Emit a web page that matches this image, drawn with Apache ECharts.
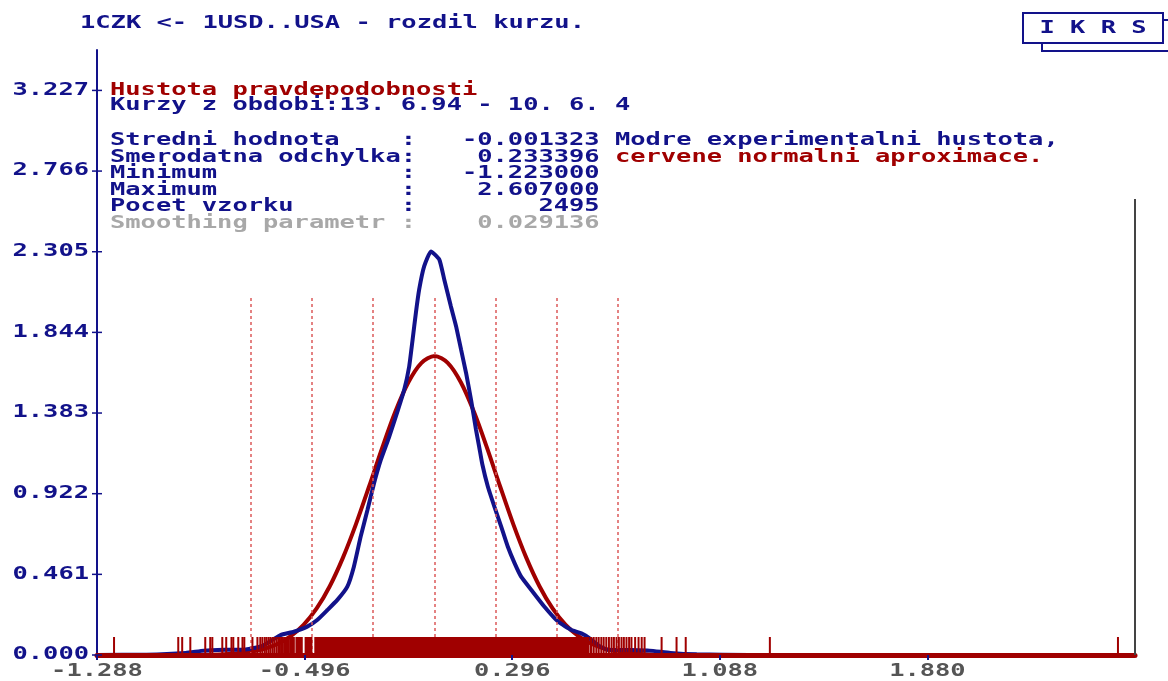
<!DOCTYPE html>
<html><head><meta charset="utf-8">
<script src="https://cdn.jsdelivr.net/npm/echarts@6/dist/echarts.min.js"></script>
<style>html,body{margin:0;padding:0;background:#fff}#c{width:1168px;height:681px}</style>
</head><body><div id="c"></div>
<script>
// ---- axis ticks ----
const xMin = -1.288, xMax = 2.672;
const yMin = 0, yMax = 3.458;
const xTicks = [-1.288, -0.496, 0.296, 1.088, 1.880];
const xTickLabels = ['-1.288', '-0.496', '0.296', '1.088', '1.880'];
const yTicks = [0, 0.461, 0.922, 1.383, 1.844, 2.305, 2.766, 3.227];
const yTickLabels = ['0.000', '0.461', '0.922', '1.383', '1.844', '2.305', '2.766', '3.227'];

// ---- experimental density (blue) ----
const blueX = [-1.288, -1.10, -0.95, -0.88, -0.80, -0.72, -0.66, -0.62, -0.588, -0.537, -0.486, -0.448, -0.409, -0.371, -0.333, -0.308, -0.282, -0.256, -0.231, -0.205, -0.175, -0.140, -0.116, -0.097, -0.084, -0.0715, -0.059, -0.040, -0.014, 0.018, 0.037, 0.062, 0.082, 0.101, 0.120, 0.139, 0.158, 0.170, 0.182, 0.203, 0.228, 0.254, 0.279, 0.305, 0.330, 0.369, 0.419, 0.471, 0.522, 0.560, 0.590, 0.630, 0.660, 0.750, 0.820, 0.900, 1.000, 1.200];
const blueY = [0.000, 0.002, 0.012, 0.025, 0.030, 0.032, 0.050, 0.085, 0.114, 0.133, 0.162, 0.200, 0.257, 0.315, 0.391, 0.505, 0.677, 0.830, 0.982, 1.116, 1.240, 1.400, 1.516, 1.649, 1.802, 1.955, 2.088, 2.221, 2.307, 2.260, 2.145, 1.993, 1.878, 1.745, 1.612, 1.459, 1.287, 1.190, 1.090, 0.963, 0.848, 0.734, 0.620, 0.525, 0.448, 0.372, 0.276, 0.191, 0.143, 0.124, 0.097, 0.050, 0.030, 0.028, 0.025, 0.012, 0.004, 0.000];

// ---- normal approximation (red) ----
const redX = [-1.288, -1.0, -0.9, -0.8, -0.75, -0.7, -0.65, -0.6, -0.55, -0.5, -0.45, -0.4, -0.35, -0.3, -0.25, -0.2, -0.15, -0.1, -0.05, 0.0, 0.05, 0.1, 0.15, 0.2, 0.25, 0.3, 0.35, 0.4, 0.45, 0.5, 0.55, 0.6, 0.65, 0.7, 0.75, 0.8, 0.9, 1.0, 2.672];
const redY = [0.000, 0.000, 0.001, 0.005, 0.010, 0.019, 0.035, 0.063, 0.106, 0.172, 0.266, 0.393, 0.555, 0.748, 0.963, 1.184, 1.390, 1.559, 1.670, 1.709, 1.670, 1.559, 1.390, 1.184, 0.963, 0.748, 0.555, 0.393, 0.266, 0.172, 0.106, 0.063, 0.035, 0.019, 0.010, 0.005, 0.001, 0.000, 0.000];

// ---- rug of samples ----
const rugTicks = [-1.223, -0.978, -0.963, -0.932, -0.875, -0.856, -0.848, -0.810, -0.795, -0.775, -0.768, -0.749, -0.733, -0.726, -0.695, -0.676,
  -0.665, -0.657, -0.648, -0.641, -0.633, -0.626, -0.618, -0.611, -0.603, -0.596, -0.590, -0.584, -0.579, -0.573, -0.567, -0.561, -0.556, -0.550, -0.546, -0.542, -0.537,
  0.595, 0.598, 0.607, 0.617, 0.626, 0.636, 0.645, 0.655, 0.665, 0.675, 0.684, 0.694, 0.703, 0.713, 0.722, 0.732, 0.742, 0.751, 0.765, 0.778, 0.790, 0.801,
  0.866, 0.923, 0.958, 1.279, 2.607];
const rugBandStart = [-0.531, -0.496, -0.459];
const rugBandEnd = [-0.503, -0.466, 0.590];
const rugHeight = 0.103;

// ---- mean +- k*sigma guide lines ----
const sigmaLines = [-0.7015, -0.4681, -0.2347, -0.0013, 0.2321, 0.4655, 0.6989];
const sigmaTop = 2.051;
const maxSample = 2.607;

// ---- texts ----
const titleText = '1CZK <- 1USD..USA - rozdil kurzu.';
const headRed = 'Hustota pravdepodobnosti';
const headBlue = 'Kurzy z obdobi:13. 6.94 - 10. 6. 4';
const statLines = [
  'Stredni hodnota    :   -0.001323 Modre experimentalni hustota,',
  'Smerodatna odchylka:    0.233396',
  'Minimum            :   -1.223000',
  'Maximum            :    2.607000',
  'Pocet vzorku       :        2495'
];
const smoothLine = 'Smoothing parametr :    0.029136';
const redNote = 'cervene normalni aproximace.';

const NAVY = '#12128a', RED = '#a00000', GRAY = '#a8a8a8';
const FONT = '17px "DejaVu Sans Mono"';
const CW = 15.3, SX = CW / (17 * 0.602);

const chart = echarts.init(document.getElementById('c'), null, {renderer: 'canvas'});
chart.setOption({
  animation: false,
  backgroundColor: '#ffffff',
  grid: {left: 97, right: 33, top: 50, bottom: 26, containLabel: false},
  xAxis: {
    type: 'value', min: xMin, max: xMax, z: 8,
    axisLine: {show: true, onZero: false, lineStyle: {color: RED, width: 5}},
    axisTick: {show: true, length: 5, customValues: xTicks, lineStyle: {color: NAVY, width: 2}},
    axisLabel: {show: false},
    splitLine: {show: false}
  },
  yAxis: {
    type: 'value', min: yMin, max: yMax,
    axisLine: {show: true, onZero: false, lineStyle: {color: NAVY, width: 2}},
    axisTick: {show: false},
    axisLabel: {show: false},
    splitLine: {show: false}
  },
  series: [
    {
      type: 'line', name: 'normal', z: 3,
      data: redX.map((x, i) => [x, redY[i]]),
      smooth: 0.3, showSymbol: false, symbol: 'none',
      lineStyle: {color: RED, width: 4}
    },
    {
      type: 'line', name: 'experimental', z: 4,
      data: blueX.map((x, i) => [x, blueY[i]]),
      smooth: 0.15, showSymbol: false, symbol: 'none',
      lineStyle: {color: NAVY, width: 4}
    },
    {
      type: 'custom', name: 'rugBands', z: 5,
      data: rugBandStart.map((s, i) => [s, rugBandEnd[i]]),
      encode: {x: [0, 1]},
      renderItem: function (params, api) {
        const p0 = api.coord([api.value(0), 0]);
        const p1 = api.coord([api.value(1), rugHeight]);
        return {type: 'rect', shape: {x: p0[0], y: p1[1], width: p1[0] - p0[0], height: p0[1] - p1[1]}, style: {fill: RED}};
      }
    },
    {
      type: 'custom', name: 'rugTicks', z: 5,
      data: rugTicks.map(v => [v]),
      encode: {x: 0},
      renderItem: function (params, api) {
        const p0 = api.coord([api.value(0), 0]);
        const p1 = api.coord([api.value(0), rugHeight]);
        return {type: 'line', shape: {x1: p0[0], y1: p0[1], x2: p1[0], y2: p1[1]}, style: {stroke: RED, lineWidth: 2}};
      }
    },
    {
      type: 'line', name: 'sigma', z: 6, data: [],
      markLine: {
        silent: true, symbol: 'none', label: {show: false},
        lineStyle: {color: '#dc5a5a', type: [3, 3], width: 1.5},
        data: sigmaLines.map(v => [{coord: [v, 0]}, {coord: [v, sigmaTop]}])
      }
    }
  ]
});

function txt(text, x, y, color, align, bold) {
  return {
    type: 'text', x: x, y: y, scaleX: SX, z: 10,
    style: {text: text, fill: color, font: (bold === false ? '' : 'bold ') + FONT, align: align || 'left', verticalAlign: 'middle'}
  };
}

const g = [];
g.push(txt(titleText, 80, 24, NAVY));
g.push(txt(headRed, 110, 91, RED));
g.push(txt(headBlue, 110, 106, NAVY));
const statY = [141, 157.5, 174, 190.5, 207];
statLines.forEach((s, i) => g.push(txt(s, 110, statY[i], NAVY)));
g.push(txt(smoothLine, 110, 223.5, GRAY));
g.push(txt(redNote, 110 + 33 * CW, 157.5, RED));

// axis labels and "+" ticks
const axX = chart.convertToPixel({gridIndex: 0}, [xMin, 0])[0];
yTicks.forEach((v, i) => {
  const p = chart.convertToPixel({gridIndex: 0}, [xMin, v]);
  g.push(txt(yTickLabels[i], axX - 8, p[1], NAVY, 'right'));
  g.push({type: 'line', z: 10, shape: {x1: axX - 5, y1: p[1], x2: axX + 5, y2: p[1]}, style: {stroke: NAVY, lineWidth: 1.5}});
});
xTicks.forEach((v, i) => {
  const p = chart.convertToPixel({gridIndex: 0}, [v, 0]);
  g.push(txt(xTickLabels[i], p[0], p[1] + 17, '#555555', 'center'));
});

// right boundary line up to the maximum sample
const r0 = chart.convertToPixel({gridIndex: 0}, [xMax, 0]);
const r1 = chart.convertToPixel({gridIndex: 0}, [xMax, maxSample]);
g.push({type: 'line', z: 10, shape: {x1: r0[0], y1: r0[1], x2: r1[0], y2: r1[1]}, style: {stroke: '#444444', lineWidth: 2}});

// IKRS logo box
g.push({type: 'polyline', z: 10, shape: {points: [[1042, 43], [1042, 51], [1168, 51]]}, style: {stroke: NAVY, lineWidth: 2, fill: null}});
g.push({type: 'line', z: 10, shape: {x1: 1163, y1: 20, x2: 1168, y2: 20}, style: {stroke: NAVY, lineWidth: 2}});
g.push({type: 'rect', z: 11, shape: {x: 1023, y: 13, width: 140, height: 30}, style: {fill: '#ffffff', stroke: NAVY, lineWidth: 2}});
g.push(Object.assign(txt('I K R S', 1093, 28.5, NAVY, 'center', true), {z: 12}));

chart.setOption({graphic: g});
</script>
</body></html>
